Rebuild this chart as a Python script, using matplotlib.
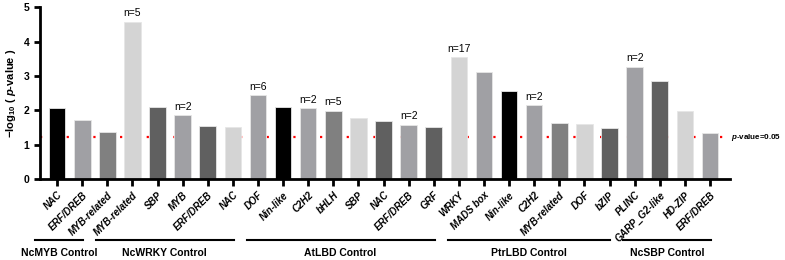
import matplotlib

matplotlib.use("Agg")
import matplotlib.pyplot as plt

plt.rcParams["font.family"] = ["Liberation Sans", "DejaVu Sans"]
plt.rcParams["mathtext.fontset"] = "custom"
plt.rcParams["mathtext.rm"] = "Liberation Sans"
plt.rcParams["mathtext.it"] = "Liberation Sans:italic"
plt.rcParams["mathtext.bf"] = "Liberation Sans:bold"
plt.rcParams["mathtext.bfit"] = "Liberation Sans:bold:italic"

# bar data, left to right
families = [
    "NAC", "ERF/DREB", "MYB-related", "MYB-related", "SBP", "MYB", "ERF/DREB",
    "NAC", "DOF", "Nin-like", "C2H2", "bHLH", "SBP", "NAC", "ERF/DREB", "GRF",
    "WRKY", "MADS box", "Nin-like", "C2H2", "MYB-related", "DOF", "bZIP",
    "PLINC", "GARP_G2-like", "HD-ZIP", "ERF/DREB",
]
neg_log_p = [
    2.06, 1.72, 1.36, 4.58, 2.08, 1.86, 1.55, 1.52, 2.44, 2.09, 2.06, 1.99,
    1.77, 1.69, 1.58, 1.50, 3.55, 3.12, 2.56, 2.14, 1.62, 1.60, 1.48, 3.27,
    2.86, 1.99, 1.33,
]
bar_shades = [
    "#000000", "#a0a0a4", "#808080", "#d4d4d4", "#606060", "#a0a0a4", "#606060",
    "#d4d4d4", "#a0a0a4", "#000000", "#a0a0a4", "#808080", "#d4d4d4", "#606060",
    "#a0a0a4", "#606060", "#d4d4d4", "#a0a0a4", "#000000", "#a0a0a4", "#808080",
    "#d4d4d4", "#606060", "#a0a0a4", "#606060", "#d4d4d4", "#a0a0a4",
]
# n= annotations: bar index -> count
counts = {3: 5, 5: 2, 8: 6, 10: 2, 11: 5, 14: 2, 16: 17, 19: 2, 23: 2}

# control groups (first bar, last bar)
group_names = ["NcMYB Control", "NcWRKY Control", "AtLBD Control",
               "PtrLBD Control", "NcSBP Control"]
group_spans = [(0, 1), (2, 7), (8, 15), (16, 22), (23, 26)]

threshold = 1.22

fig = plt.figure(figsize=(7.85, 2.6), dpi=100)
ax = fig.add_axes([0.051, 0.312, 0.879, 0.66])

x = list(range(len(families)))
ax.plot([-0.68, 26.75], [threshold, threshold], color="#ff0000",
        linestyle=(0, (1, 5)), linewidth=1.6, zorder=1, clip_on=False)
ax.bar(x, neg_log_p, width=0.66, color=bar_shades, edgecolor="#e6e6e6",
       linewidth=0.6, zorder=2)

for i, n in counts.items():
    ax.text(i, neg_log_p[i] + 0.1, f"n={n}", ha="center", va="bottom",
            fontsize=7.5)

ax.text(26.82, threshold, r"$\mathbfit{p}$-value=0.05", ha="left",
        va="center", fontsize=5.8, fontweight="bold")

ax.set_xlim(-0.68, 26.8)
ax.set_ylim(0, 5)
ax.set_yticks(range(6))
ax.set_xticks(x)
ax.set_xticklabels(families, rotation=45, ha="right", rotation_mode="anchor",
                   fontsize=7, fontweight="bold", fontstyle="italic")
for lbl in ax.get_yticklabels():
    lbl.set_fontweight("bold")
ax.tick_params(axis="y", labelsize=7.5, width=2, length=4)
ax.tick_params(axis="x", width=2, length=5, pad=3)
ax.set_ylabel(r"$\mathbf{-log_{10}}$ ( $\mathbfit{p}$-value )", fontsize=8,
              fontweight="bold", labelpad=4)

for side in ("top", "right"):
    ax.spines[side].set_visible(False)
for side in ("left", "bottom"):
    ax.spines[side].set_linewidth(2)

# control group bars and labels below the axis
line_y = -1.78
for name, (a, b) in zip(group_names, group_spans):
    x0 = a - 0.88 if a == 0 else a - 0.45
    x1 = b + 0.03
    ax.plot([x0, x1], [line_y, line_y], color="black", linewidth=1.5,
            clip_on=False)
    ax.text((x0 + x1) / 2, line_y - 0.22, name, ha="center", va="top",
            fontsize=7.5, fontweight="bold")

fig.savefig("out.png", dpi=100)
